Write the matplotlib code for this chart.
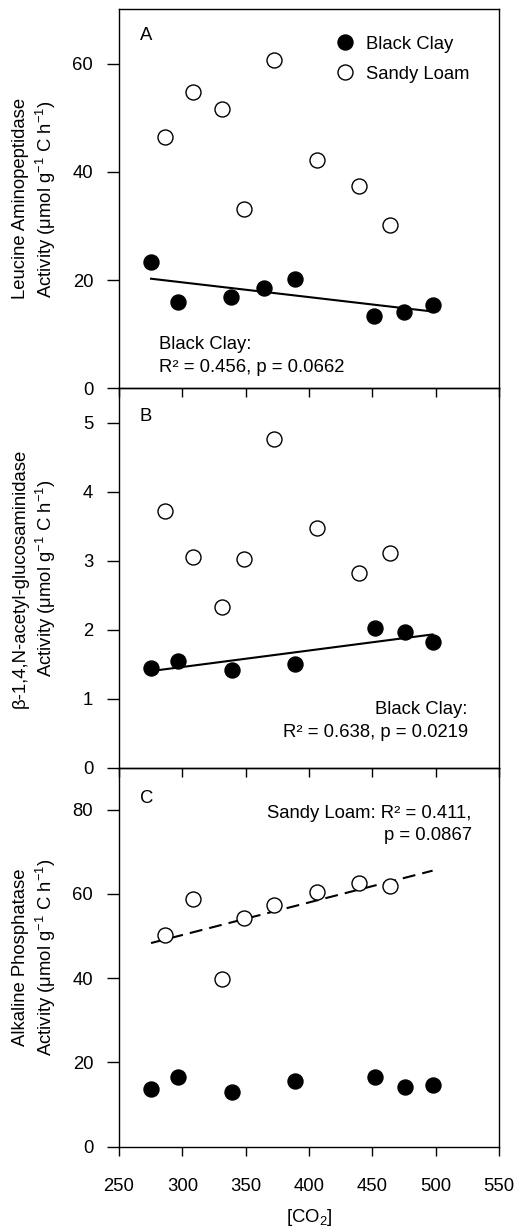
import numpy as np
import matplotlib
matplotlib.use("Agg")
import matplotlib.pyplot as plt

plt.rcParams['font.family'] = ['Liberation Sans', 'DejaVu Sans']
plt.rcParams['mathtext.fontset'] = 'custom'
plt.rcParams['mathtext.rm'] = 'Liberation Sans'
plt.rcParams['mathtext.it'] = 'Liberation Sans:italic'
plt.rcParams['font.size'] = 13.3

# CO2 levels (ppm)
co2_bc_a = [275.3, 296.3, 338.4, 364.7, 389.0, 451.6, 475.3, 497.6]
co2_bc = [275.3, 296.3, 338.9, 389.0, 452.0, 475.5, 497.6]
co2_sl = [286.0, 308.3, 331.0, 349.0, 372.5, 406.0, 439.5, 464.2]

# A: leucine aminopeptidase
lap_bc = [23.3, 16.0, 16.9, 18.6, 20.3, 13.4, 14.1, 15.4]
lap_sl = [46.5, 54.8, 51.6, 33.2, 60.6, 42.2, 37.4, 30.2]

# B: NAG
nag_bc = [1.45, 1.54, 1.42, 1.50, 2.02, 1.96, 1.82]
nag_sl = [3.72, 3.06, 2.33, 3.03, 4.77, 3.47, 2.83, 3.12]

# C: alkaline phosphatase
ap_bc = [13.7, 16.5, 13.0, 15.6, 16.6, 14.1, 14.6]
ap_sl = [50.2, 58.8, 39.7, 54.3, 57.3, 60.4, 62.6, 61.8]

unit = "Activity (\u03bcmol g$^{-1}$ C h$^{-1}$)"
ylabels = ["Leucine Aminopeptidase\n" + unit,
           "\u03b2-1,4,N-acetyl-glucosaminidase\n" + unit,
           "Alkaline Phosphatase\n" + unit]

fig, axes = plt.subplots(3, 1, sharex=True, figsize=(5.16, 12.3), dpi=100,
                         gridspec_kw={'hspace': 0})
fig.subplots_adjust(left=0.2306, right=0.967, top=0.9924, bottom=0.0677)

ms = 10.8
def scatter(ax, x, y, filled):
    ax.plot(x, y, 'o', ls='none', ms=ms, mec='black', mew=1.0,
            mfc='black' if filled else 'white', zorder=3,
            label='Black Clay' if filled else 'Sandy Loam')

def fitline(ax, x, y, xr, dashed=False):
    k, b = np.polyfit(x, y, 1)
    xs = np.array([min(xr), max(xr)])
    if dashed:
        ax.plot(xs, k * xs + b, color='black', lw=1.5, dashes=(6.2, 3.4), zorder=2)
    else:
        ax.plot(xs, k * xs + b, color='black', lw=1.5, zorder=2)

ax = axes[0]
scatter(ax, co2_bc_a, lap_bc, True)
scatter(ax, co2_sl, lap_sl, False)
fitline(ax, co2_bc_a, lap_bc, co2_bc_a)
ax.set_ylim(0, 70)
ax.set_yticks([0, 20, 40, 60])
ax.legend(loc='upper left', bbox_to_anchor=(0.57, 0.931), frameon=False,
          borderaxespad=0, borderpad=0, handlelength=1.0, handletextpad=0.67,
          labelspacing=0.72, fontsize=13.3)
ax.text(0.055, 0.920, "A", transform=ax.transAxes)
ax.text(0.105, 0.1047, "Black Clay:", transform=ax.transAxes)
ax.text(0.105, 0.0441, "R\u00b2 = 0.456, p = 0.0662", transform=ax.transAxes)

ax = axes[1]
scatter(ax, co2_bc, nag_bc, True)
scatter(ax, co2_sl, nag_sl, False)
fitline(ax, co2_bc, nag_bc, co2_bc)
ax.set_ylim(0, 5.5)
ax.set_yticks([0, 1, 2, 3, 4, 5])
ax.text(0.055, 0.915, "B", transform=ax.transAxes)
ax.text(0.918, 0.1404, "Black Clay:", transform=ax.transAxes, ha='right')
ax.text(0.918, 0.0815, "R\u00b2 = 0.638, p = 0.0219", transform=ax.transAxes, ha='right')

ax = axes[2]
scatter(ax, co2_bc, ap_bc, True)
scatter(ax, co2_sl, ap_sl, False)
fitline(ax, co2_sl, ap_sl, co2_bc, dashed=True)
ax.set_ylim(0, 90)
ax.set_yticks([0, 20, 40, 60, 80])
ax.text(0.055, 0.906, "C", transform=ax.transAxes)
ax.text(0.928, 0.866, "Sandy Loam: R\u00b2 = 0.411,", transform=ax.transAxes, ha='right')
ax.text(0.928, 0.809, "p = 0.0867", transform=ax.transAxes, ha='right')
ax.set_xlabel("[CO$_2$]", labelpad=9)

for i, ax in enumerate(axes):
    ax.set_xlim(250, 550)
    ax.set_xticks([250, 300, 350, 400, 450, 500, 550])
    ax.patch.set_visible(False)
    for s in ax.spines.values():
        s.set_linewidth(1.0)
    ax.tick_params(axis='x', direction='out', length=6.5, width=1.0, pad=16,
                   labelsize=13.3)
    ax.tick_params(axis='y', direction='out', length=8.6, width=1.0, pad=10,
                   labelsize=13.3)
    ax.text(-0.221, 0.5, ylabels[i], transform=ax.transAxes, rotation=90,
            ha='center', va='center', multialignment='center', linespacing=1.25)

plt.savefig("out.png", dpi=100)
